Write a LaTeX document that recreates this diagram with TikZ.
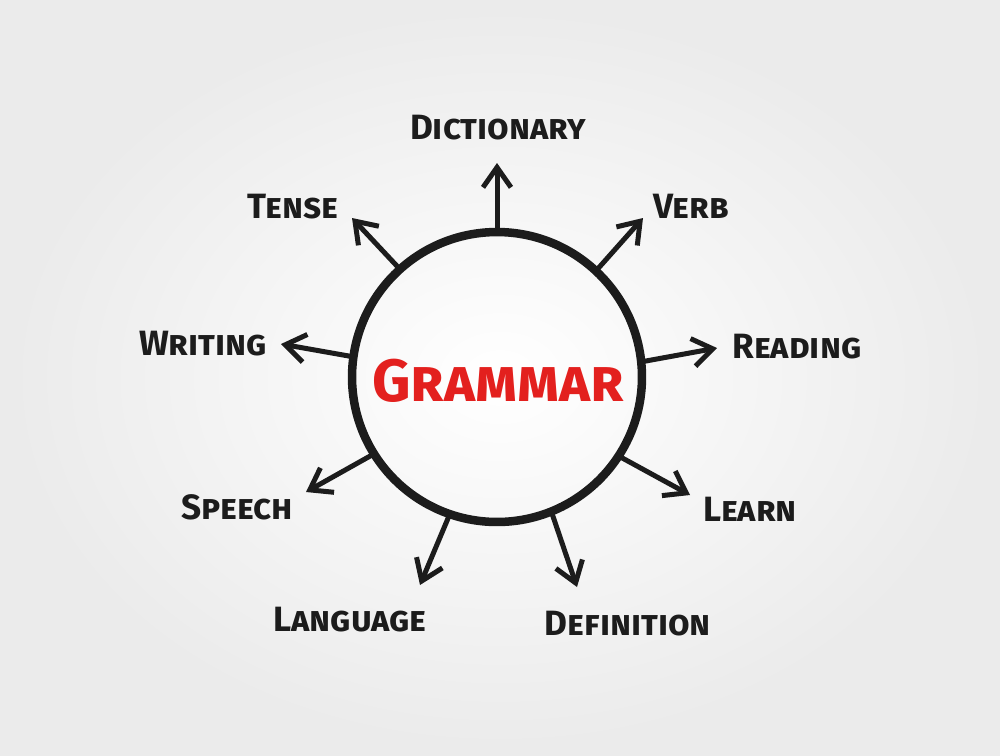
\documentclass[tikz,border=0pt]{standalone}
\usepackage{fontspec}
\setmainfont{Fira Sans}
\usetikzlibrary{arrows.meta}
\definecolor{ink}{HTML}{1C1C1C}
\definecolor{gramred}{HTML}{E3201E}
\begin{document}
\begin{tikzpicture}[x=0.02cm,y=-0.02cm,
  every node/.style={font=\fontsize{20}{20}\selectfont\bfseries\scshape, text=ink, inner sep=0pt},
  link/.style={draw=ink, line width=0.1cm, line cap=round,
    -{Straight Barb[length=0.4cm,width=0.56cm]}}]
  \shade[inner color=white, outer color=black!8] (0,0) rectangle (1000,755);
  \useasboundingbox (0,0) rectangle (1000,755);
  \node[circle, draw=ink, line width=0.17cm, minimum size=5.8cm, outer sep=0pt] (core) at (497,377) {};
  \node[text=gramred, font=\fontsize{34}{34}\selectfont\bfseries\scshape] (grammar) at (498,381) {Grammar};
  % labels
  \path (498,128) node (dictionary){Dictionary} (691,206) node (verb){Verb}
    (797,347) node (reading){Reading} (750,509) node (learn){Learn}
    (628,624) node (definition){Definition} (350,620) node (language){Language}
    (237,507) node (speech){Speech} (203,344) node (writing){Writing}
    (293,207) node (tense){Tense};
  % arrow tips
  \path (497,163) coordinate (dictionary-tip) (643,218) coordinate (verb-tip)
    (717,348) coordinate (reading-tip) (690,495) coordinate (learn-tip)
    (577,587) coordinate (definition-tip) (420,585) coordinate (language-tip)
    (306,492) coordinate (speech-tip) (281,344) coordinate (writing-tip)
    (352,218) coordinate (tense-tip);
  \draw[link] (core.90) -- (dictionary-tip);
  \draw[link] (core.47) -- (verb-tip);
  \draw[link] (core.6) -- (reading-tip);
  \draw[link] (core.-33) -- (learn-tip);
  \draw[link] (core.-68) -- (definition-tip);
  \draw[link] (core.-109) -- (language-tip);
  \draw[link] (core.-148) -- (speech-tip);
  \draw[link] (core.172) -- (writing-tip);
  \draw[link] (core.132) -- (tense-tip);
\end{tikzpicture}
\end{document}
